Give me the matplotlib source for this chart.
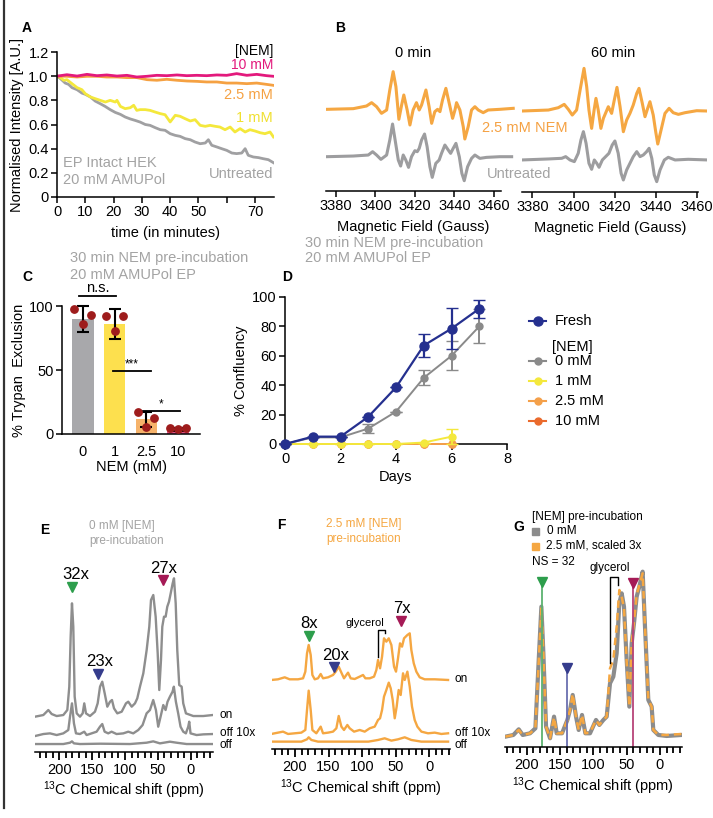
import matplotlib
matplotlib.use('Agg')
import matplotlib.pyplot as plt
from matplotlib.lines import Line2D
from matplotlib.patches import Rectangle

plt.rcParams['font.family'] = ['Liberation Sans', 'DejaVu Sans']
plt.rcParams['mathtext.default'] = 'regular'
plt.rcParams['axes.linewidth'] = 1.1
plt.rcParams['xtick.major.width'] = 1.1
plt.rcParams['ytick.major.width'] = 1.1

# ---------------- DATA ----------------
# Panel A: normalised EPR intensity vs time (min)
a_t_untreated = [0, 1.2, 2.9, 4.1, 5.3, 7.1, 8.8, 10, 11.8, 13.5, 15.3, 17, 18.8, 20.6, 22.4, 24.1, 25.9, 27.6,
                 29.4, 31.2, 32.9, 34.7, 36.5, 38.2, 40, 41.8, 43.5, 45.3, 47.1, 48.8, 50.6, 52.4, 53.5, 54.7,
                 56.5, 58.2, 60, 61.8, 63.5, 65.3, 66.5, 67.6, 69.4, 71.2, 72.9, 74.7, 76.5]
a_untreated = [1.0, 0.98, 0.943, 0.932, 0.905, 0.888, 0.86, 0.85, 0.828, 0.794, 0.772, 0.75, 0.723, 0.70, 0.684,
               0.662, 0.646, 0.634, 0.62, 0.60, 0.593, 0.574, 0.557, 0.552, 0.524, 0.51, 0.502, 0.483, 0.474,
               0.455, 0.441, 0.447, 0.474, 0.428, 0.414, 0.40, 0.386, 0.364, 0.359, 0.364, 0.40, 0.345, 0.331,
               0.326, 0.317, 0.309, 0.284]
a_t_1mM = [0, 1.2, 2.4, 3.5, 5.3, 7.1, 8.8, 10, 11.8, 13.5, 15.3, 17.1, 18.8, 20.6, 21.2, 22.4, 24.1, 25.9, 27.1,
           28.2, 29.4, 31.2, 32.9, 34.7, 36.5, 38.2, 40, 41.8, 43.5, 45.3, 47.1, 48.8, 50.6, 52.4, 54.1, 55.9,
           57.6, 59.4, 61.2, 62.9, 64.7, 66.5, 68.2, 70, 71.8, 73.5, 75.3, 76.5]
a_1mM = [1.0, 0.988, 0.966, 0.971, 0.938, 0.905, 0.888, 0.855, 0.828, 0.814, 0.80, 0.786, 0.80, 0.786, 0.80, 0.75,
         0.731, 0.739, 0.759, 0.717, 0.723, 0.723, 0.717, 0.703, 0.69, 0.681, 0.621, 0.676, 0.668, 0.648, 0.629,
         0.64, 0.593, 0.585, 0.593, 0.585, 0.579, 0.557, 0.579, 0.538, 0.566, 0.538, 0.557, 0.546, 0.532, 0.524,
         0.538, 0.497]
a_t_hi = [0, 3.5, 7.1, 10.6, 14.1, 17.6, 21.2, 24.7, 28.2, 31.8, 35.3, 38.8, 42.4, 45.9, 49.4, 52.9, 56.5, 60,
          63.5, 67.1, 70.6, 74.1, 76.5]
a_2p5mM = [1.0, 0.999, 0.993, 0.999, 0.999, 0.993, 0.993, 0.988, 0.988, 0.971, 0.966, 0.974, 0.966, 0.96, 0.957,
           0.952, 0.952, 0.943, 0.943, 0.938, 0.943, 0.932, 0.924]
a_10mM = [1.0, 1.012, 1.001, 1.015, 1.004, 1.01, 1.001, 1.007, 0.993, 0.999, 1.007, 1.004, 1.01, 1.004, 1.007,
          1.004, 1.01, 1.007, 1.021, 1.007, 1.015, 1.004, 0.999]
a_xticks = [0, 10, 20, 30, 40, 50, 60, 70]
a_xticklabels = ['0', '10', '20', '30', '40', '50', '', '70']
a_yticks = [0, 0.2, 0.4, 0.6, 0.8, 1.0, 1.2]
a_yticklabels = ['0', '0.2', '0.4', '0.6', '0.8', '1.0', '1.2']

# Panel B: EPR spectra (field in Gauss, signal in arbitrary units)
b0_field_nem = [3375.3, 3388.8, 3395.5, 3398.1, 3400.6, 3403.1, 3405.7, 3407.3, 3409.0, 3410.4, 3411.9, 3413.3,
                3414.4, 3416.1, 3417.5, 3419.1, 3420.8, 3422.2, 3423.4, 3425.6, 3427.2, 3428.5, 3430.1, 3431.5,
                3432.7, 3434.0, 3435.7, 3437.4, 3439.1, 3440.3, 3441.1, 3442.8, 3444.5, 3445.3, 3447.0, 3448.7,
                3450.4, 3452.1, 3454.6, 3457.1, 3463.0, 3469.8]
b0_nem = [-1, 1, 9, 19, 7, -13, -3, 57, 112, 67, -31, 12, 42, -3, -48, -3, 19, -3, 12, 57, 7, -43, -8, -1, -8, 27,
          62, 17, -28, -3, 19, -3, -53, -90, -53, -3, 7, -3, -11, -3, -1, 2]
b0_field_unt = [3375.3, 3388.8, 3396.4, 3398.6, 3400.6, 3402.8, 3405.7, 3407.3, 3408.7, 3410.0, 3411.6, 3412.8,
                3414.1, 3415.4, 3416.8, 3418.3, 3420.0, 3421.2, 3422.2, 3423.4, 3424.9, 3426.2, 3427.6, 3428.8,
                3430.6, 3432.3, 3433.5, 3435.2, 3436.9, 3438.1, 3439.4, 3440.8, 3442.5, 3443.8, 3445.0, 3446.7,
                3448.7, 3450.4, 3452.9, 3456.3, 3463.0, 3469.0]
b0_unt = [0, 2, 5, 15, 5, -8, 5, 50, 98, 50, -10, -28, 5, -10, -32, 0, 18, 15, 25, 50, 68, 30, -30, -62, -20, -10,
          10, 35, 20, 10, 25, 40, 0, -50, -72, -30, -5, 5, -5, -2, 0, 0]
b60_field_nem = [3374.8, 3387.8, 3392.6, 3395.5, 3397.5, 3399.4, 3401.5, 3403.2, 3405.1, 3406.4, 3407.5, 3408.8,
                 3410.0, 3410.9, 3412.0, 3413.3, 3414.5, 3416.9, 3418.5, 3419.8, 3421.1, 3422.6, 3424.2, 3425.8,
                 3427.4, 3429.0, 3430.7, 3431.8, 3433.4, 3434.7, 3436.0, 3437.1, 3438.7, 3439.9, 3440.9, 3442.5,
                 3444.4, 3446.4, 3448.4, 3450.9, 3454.1, 3459.8, 3465.4]
b60_nem = [-1, 2, 9, 19, 4, -13, 2, 62, 127, 72, 2, -53, 2, 37, 2, -53, -23, 12, -8, 32, 70, 12, -63, -28, -8, 17,
           52, 67, 22, -18, 7, 27, -13, -63, -100, -58, -8, 7, -6, -11, -6, 0, -1]
b60_field_unt = [3374.8, 3387.8, 3394.3, 3396.2, 3398.3, 3400.4, 3402.3, 3403.6, 3404.8, 3406.1, 3407.5, 3408.8,
                 3410.1, 3411.3, 3412.4, 3414.0, 3415.6, 3417.2, 3418.8, 3420.1, 3421.7, 3423.1, 3424.2, 3425.8,
                 3427.4, 3429.0, 3430.7, 3432.3, 3433.9, 3435.5, 3436.7, 3438.0, 3439.2, 3440.4, 3442.0, 3444.1,
                 3446.0, 3449.3, 3455.7, 3465.4]
b60_unt = [-2, 1, 3, 8, -2, -7, 18, 58, 83, 48, -12, -30, -2, -12, -24, -2, 8, 18, 43, 55, 18, -42, -62, -32, -12,
           8, 23, 8, 13, 23, 33, 3, -47, -67, -32, -2, 6, -2, 0, -2]
b_ticks = [3380, 3400, 3420, 3440, 3460]

# Panel C: trypan exclusion
c_labels = ['0', '1', '2.5', '10']
c_means = [90, 86, 11.5, 3.5]
c_err = [10, 11.5, 6, 1]
c_points = [[97.7, 93.2, 85.7], [92.4, 92.4, 80.7], [17.4, 12.8, 5.7], [4.4, 4.9, 3.9]]

# Panel D: confluency vs days
d_days = [0, 1, 2, 3, 4, 5, 6, 7]
d_fresh = [0, 5, 5, 18.5, 38.5, 67, 78.5, 92]
d_fresh_err = [0, 0, 0, 0, 0, 8, 14, 6]
d_0mM = [0, 4.5, 4.5, 10.5, 22, 45, 60, 80]
d_0mM_err = [0, 0, 0, 3, 0, 5, 10, 11.5]
d_days_nem = [0, 1, 2, 3, 4, 5, 6]
d_1mM = [0, 0, 0, 0, 0, 1, 5]
d_1mM_err = [0, 0, 0, 0, 0, 0, 5]
d_2p5mM = [0, 0, 0, 0, 0, 0, 0]
d_10mM = [0, 0, 0, 0, 0, 0, 0]

# Panel E: 13C spectra, 0 mM NEM (ppm, intensity above own baseline)
e_ppm_on = [237, 224.3, 216.7, 211.6, 204, 193.9, 187.8, 184.8, 182.7, 180.7, 178.7, 176.6, 173.5, 168.5, 164.4,
            162, 159.4, 153.3, 145.7, 141.6, 138, 134.6, 130.9, 126.9, 122.8, 119.8, 116.7, 111.7, 105, 98.5, 95,
            89.8, 84.8, 81.3, 77.2, 72.1, 67, 63, 60.4, 56.9, 53.3, 50.2, 47.8, 45.2, 43.2, 40.6, 38.1, 35.6, 33,
            30.4, 27.4, 25.4, 22.8, 20.4, 17.4, 13.7, 11.3, 7.2, -4, -19.2, -33.5]
e_on = [-2, 3, 18, 6, 0, 3, 18, 88, 238, 338, 268, 58, 8, -2, 8, 38, 8, 0, 13, 38, 88, 103, 68, 28, 43, 48, 23, 8,
        13, 38, 43, 28, 38, 53, 88, 128, 198, 268, 348, 363, 298, 188, 78, 168, 268, 298, 298, 328, 343, 368, 398,
        413, 338, 198, 93, 88, 38, 8, 0, 0, 3]
e_ppm_off10 = [237, 224.3, 214.2, 204, 193.9, 186.3, 183.7, 180.7, 177.7, 174.6, 168.5, 162, 158.4, 150.8, 143.2,
               138.1, 134.6, 131, 125.5, 120.4, 112.8, 102.6, 95, 87.4, 79.8, 73.2, 67.1, 62, 57, 52.9, 49.4, 45.8,
               41.7, 38.2, 35.2, 31.6, 27.6, 25.6, 22.5, 19, 15.4, 11.3, 7.3, 3.7, 2.2, 0.2, -9, -19.2, -33.5]
e_off10 = [-3, 3, 5, 0, 5, 15, 55, 95, 35, 5, 3, 10, 0, 5, 10, 25, 33, 10, 5, 10, 3, 5, 10, 5, 15, 30, 65, 75, 105,
           75, 25, 55, 90, 75, 100, 115, 130, 145, 100, 65, 25, 10, 5, 25, 40, 5, 0, 2, 3]
e_ppm_off = [237, 193.9, 183.7, 180.7, 177.7, 168.5, 138.1, 92.4, 67.1, 57, 46.8, 31.6, 21.5, 6.2, -33.5]
e_off = [1, 1, 5, 9, 3, 1, 2, 1, 5, 9, 3, 8, 5, 1, 1]

# Panel F: 13C spectra, 2.5 mM NEM
f_ppm_on = [235.3, 225.4, 215.4, 208, 195.5, 188, 184.6, 182.1, 179.6, 176.6, 174.1, 170.6, 165.7, 161.7, 158.2,
            150.7, 143.3, 139.3, 134.8, 130.8, 126.9, 123.4, 120.9, 116.9, 110.9, 103.5, 98.5, 95, 88.5, 82.1,
            78.6, 76.1, 73.1, 70.1, 67.2, 63.7, 60.1, 56.2, 52.2, 49.3, 46.3, 43.3, 40.3, 37.3, 32.3, 28.8, 26.4,
            22.8, 18.9, 13.9, 6.5, -8.5, -28.4]
f_on = [-2, 0, 6, 0, 0, 3, 23, 78, 103, 73, 13, 0, 3, 16, 3, 6, 13, 23, 38, 20, 3, 13, 20, 3, 1, 8, 13, 3, 3, 8,
        28, 58, 33, 68, 123, 113, 123, 103, 38, 23, 63, 108, 98, 123, 133, 138, 88, 48, 23, 6, 0, 0, -2]
f_ppm_off10 = [235.3, 225.4, 217.9, 210.4, 200.5, 190.5, 184.6, 182.1, 179.6, 176.6, 174.1, 168.2, 161.7, 158.2,
               150.7, 143.3, 138.3, 134.8, 130.8, 126.9, 121.9, 118.4, 111.9, 103.5, 96, 88.5, 81.1, 76.1, 73.1,
               70.1, 67.2, 63.7, 60.1, 57.2, 54.2, 51.2, 48.3, 45.3, 42.3, 38.8, 36.3, 32.3, 28.8, 25.4, 21.4,
               17.4, 11.4, 1.5, -8.5, -18.4, -28.4]
f_off10 = [-2, 2, 5, -2, 0, 2, 10, 70, 128, 70, 10, 0, 20, 0, 2, 5, 15, 52, 20, 10, 25, 15, 5, 10, 5, 15, 20, 40,
           45, 70, 110, 130, 152, 135, 100, 45, 80, 130, 115, 180, 160, 185, 140, 80, 40, 20, 5, 0, 2, -2, 0]
f_ppm_off = [235.3, 190.5, 182.1, 179.6, 175.6, 165.7, 90.5, 76.1, 66.2, 56.2, 46.3, 36.3, 26.4, 11.4, -28.4]
f_off = [0, 0, 7, 13, 5, 0, 0, 5, 10, 3, 7, 13, 5, 0, 0]

# Panel G: overlay, 0 mM vs 2.5 mM scaled 3x
g_ppm = [232, 220, 212, 206, 195, 187, 182, 178, 175, 171, 165, 159, 155, 147, 139, 135, 131, 126, 122, 117, 112,
         105, 96, 91, 85, 80, 75, 70, 65, 61, 57.5, 54, 50, 46, 42.5, 39, 35, 31, 26, 22.5, 17.5, 12.5, 10, 2.5,
         -10, -32.5]
g_0mM = [0, 5, 22, 5, 10, 25, 230, 390, 250, 30, -5, 60, 10, 10, 50, 80, 125, 60, 20, 65, 10, 10, 50, 35, 50, 60,
         160, 180, 250, 400, 430, 390, 230, 90, 280, 340, 420, 450, 495, 330, 110, 90, 20, 5, 2, 5]
g_2p5mM = [0, 5, 20, 5, 10, 25, 225, 385, 250, 30, -5, 58, 10, 10, 50, 80, 128, 60, 20, 65, 10, 12, 50, 35, 50, 60,
           205, 230, 330, 440, 420, 385, 225, 90, 280, 345, 425, 455, 490, 330, 110, 90, 20, 5, 5, 8]
nmr_major = [200, 150, 100, 50, 0]
nmr_minor = [230, 220, 210, 190, 180, 170, 160, 140, 130, 120, 110, 90, 80, 70, 60, 40, 30, 20, 10, -10, -20, -30]

# ---------------- FIGURE ----------------
W, H = 713, 818
fig = plt.figure(figsize=(W / 100, H / 100), dpi=100)


def ax_at(x0, y0, x1, y1):
    return fig.add_axes([x0 / W, 1 - y1 / H, (x1 - x0) / W, (y1 - y0) / H])


def ftext(x, y, s, **kw):
    kw.setdefault('va', 'center')
    fig.text(x / W, 1 - y / H, s, **kw)


GRAYTXT = '#a3a3a3'
ORANGE = '#f5a742'
PINK = '#e3197c'
YELLOW = '#f4e83c'
FS = 10.5

# left border
fig.add_artist(Line2D([4 / W, 4 / W], [1.0, 1 - 808 / H], transform=fig.transFigure, color='#333333', lw=1.6))

# ---- Panel A ----
axA = ax_at(57, 52, 274, 197)
axA.plot(a_t_untreated, a_untreated, color='#a0a0a2', lw=2)
axA.plot(a_t_1mM, a_1mM, color=YELLOW, lw=2)
axA.plot(a_t_hi, a_2p5mM, color='#f5a142', lw=2)
axA.plot(a_t_hi, a_10mM, color=PINK, lw=2)
axA.set_xlim(0, 76.7)
axA.set_ylim(0, 1.2)
axA.set_xticks(a_xticks)
axA.set_xticklabels(a_xticklabels, fontsize=FS)
axA.set_yticks(a_yticks)
axA.set_yticklabels(a_yticklabels, fontsize=FS)
for s in ['top', 'right']:
    axA.spines[s].set_visible(False)
axA.tick_params(length=4, pad=2)
axA.set_xlabel('time (in minutes)', fontsize=FS, labelpad=5)
axA.set_ylabel('Normalised Intensity [A.U.]', fontsize=FS, labelpad=3)
ftext(22, 28, 'A', fontsize=10, fontweight='bold')
ftext(273, 51, '[NEM]', fontsize=10, ha='right', color='black')
ftext(273, 65, '10 mM', fontsize=10, ha='right', color=PINK)
ftext(273, 95, '2.5 mM', fontsize=FS, ha='right', color='#f5a142')
ftext(273, 118, '1 mM', fontsize=FS, ha='right', color='#f0e030')
ftext(63, 163, 'EP Intact HEK', fontsize=FS, color=GRAYTXT)
ftext(63, 180, '20 mM AMUPol', fontsize=FS, color=GRAYTXT)
ftext(273, 174, 'Untreated', fontsize=FS, ha='right', color=GRAYTXT)

# ---- Panel B ----
ftext(335, 28, 'B', fontsize=10, fontweight='bold')
for (x0, x1, xl, sb, fn, yn, fu, yu, base_n, base_u, spine_y, title, tx) in [
        (326, 515, (3375, 3470.7), (3375, 3463.6), b0_field_nem, b0_nem, b0_field_unt, b0_unt, 109.0, 156.7,
         190.7, '0 min', 413),
        (522, 707, (3375, 3464.8), (3375, 3460.5), b60_field_nem, b60_nem, b60_field_unt, b60_unt, 110.7, 159.3,
         191.7, '60 min', 613)]:
    ax = ax_at(x0, 63, x1, spine_y)
    ax.plot(fn, yn, color=ORANGE, lw=2.2, solid_joinstyle='round')
    ax.plot(fu, [v - (base_u - base_n) * 3 for v in yu], color='#9d9d9f', lw=2.2, solid_joinstyle='round')
    ax.set_xlim(*xl)
    ax.set_ylim(-(spine_y - base_n) * 3, (base_n - 63) * 3)
    for s in ['top', 'right', 'left']:
        ax.spines[s].set_visible(False)
    ax.spines['bottom'].set_bounds(*sb)
    ax.set_yticks([])
    ax.set_xticks(b_ticks)
    ax.tick_params(axis='x', labelsize=FS, length=4, pad=2)
    ax.set_xlabel('Magnetic Field (Gauss)', fontsize=FS)
    ax.xaxis.set_label_coords((sum(sb) / 2 - xl[0]) / (xl[1] - xl[0]), -0.23)
    ftext(tx, 53, title, fontsize=FS, ha='center')
ftext(525, 128, '2.5 mM NEM', fontsize=FS, ha='center', color='#f5a142')
ftext(519, 174, 'Untreated', fontsize=FS, ha='center', color=GRAYTXT)

# ---- Panel C ----
ftext(22, 277, 'C', fontsize=10, fontweight='bold')
ftext(70, 258, '30 min NEM pre-incubation', fontsize=FS, color=GRAYTXT)
ftext(70, 275, '20 mM AMUPol EP', fontsize=FS, color=GRAYTXT)
axC = ax_at(62, 306, 200, 434)
xs = list(range(len(c_labels)))
axC.bar(xs, c_means, width=0.68, color=['#a8a8ab', '#fde04e', '#f6b36b', '#e9558c'], zorder=1)
axC.errorbar(xs, c_means, yerr=c_err, fmt='none', ecolor='black', elinewidth=1.5, capsize=4, capthick=1.5,
             zorder=3, clip_on=False)
for i, pts in enumerate(c_points):
    axC.scatter([i - 0.27, i + 0.25, i][:len(pts)], pts, s=28, color='#9e1c1c', zorder=4, clip_on=False)
axC.set_xlim(-0.66, 3.69)
axC.set_ylim(0, 100)
axC.set_yticks([0, 50, 100])
axC.set_xticks(xs)
axC.set_xticklabels(c_labels)
axC.tick_params(labelsize=FS, length=4, pad=2)
axC.tick_params(axis='x', length=0, pad=8)
for s in ['top', 'right']:
    axC.spines[s].set_visible(False)
axC.set_xlabel('NEM (mM)', fontsize=FS, labelpad=1)
axC.set_ylabel('% Trypan  Exclusion', fontsize=FS, labelpad=2)
for (xa, xb, yv, lab) in [(-0.13, 1.05, 108, 'n.s.'), (0.95, 2.15, 49, '***'), (1.9, 3.05, 18, '*')]:
    axC.plot([xa, xb], [yv, yv], color='black', lw=1.3, clip_on=False)
    axC.text((xa + xb) / 2, yv + 0.5, lab, ha='center', va='bottom', fontsize=8.5 if lab != 'n.s.' else FS,
             clip_on=False)

# ---- Panel D ----
ftext(282, 277, 'D', fontsize=10, fontweight='bold')
ftext(305, 243, '30 min NEM pre-incubation', fontsize=FS, color=GRAYTXT)
ftext(305, 258, '20 mM AMUPol EP', fontsize=FS, color=GRAYTXT)
axD = ax_at(285, 297, 507, 444)
FRESH = '#25308f'
G0 = '#8a8a8a'
C25 = '#f4a04a'
C10 = '#ea6a2c'
axD.errorbar(d_days_nem, d_10mM, color=C10, marker='o', ms=5, lw=1.4, clip_on=False, zorder=3)
axD.errorbar(d_days_nem, d_2p5mM, color=C25, marker='o', ms=5, lw=1.4, clip_on=False, zorder=3)
axD.errorbar(d_days_nem, d_1mM, yerr=d_1mM_err, color=YELLOW, marker='o', ms=5, lw=1.4, capsize=4,
             clip_on=False, zorder=4)
axD.errorbar(d_days, d_0mM, yerr=d_0mM_err, color=G0, marker='o', ms=5, lw=1.4, capsize=4, clip_on=False,
             zorder=5)
axD.errorbar(d_days, d_fresh, yerr=d_fresh_err, color=FRESH, marker='o', ms=6.5, lw=1.6, capsize=4,
             clip_on=False, zorder=6)
axD.set_xlim(0, 8)
axD.set_ylim(0, 100)
axD.set_xticks([0, 2, 4, 6, 8])
axD.set_yticks([0, 20, 40, 60, 80, 100])
axD.tick_params(labelsize=FS, length=4, pad=2)
for s in ['top', 'right']:
    axD.spines[s].set_visible(False)
axD.set_xlabel('Days', fontsize=FS, labelpad=3)
axD.set_ylabel('% Confluency', fontsize=FS, labelpad=3)
for (yy, col, ms, lab) in [(321, FRESH, 6.5, 'Fresh'), (361, G0, 5, '0 mM'), (381, YELLOW, 5, '1 mM'),
                           (401, C25, 5, '2.5 mM'), (421, C10, 5, '10 mM')]:
    fig.add_artist(Line2D([529 / W, 546 / W], [1 - yy / H] * 2, transform=fig.transFigure, color=col, lw=1.5))
    fig.add_artist(Line2D([538 / W], [1 - yy / H], transform=fig.transFigure, color=col, marker='o', ms=ms))
    ftext(555, yy, lab, fontsize=FS)
ftext(552, 347, '[NEM]', fontsize=FS)


# ---- NMR helper ----
def nmr_axis(ax, xl, ytop):
    ax.set_xlim(*xl)
    ax.set_ylim(0, ytop)
    for s in ['top', 'right', 'left']:
        ax.spines[s].set_visible(False)
    ax.set_yticks([])
    ax.set_xticks(nmr_major)
    ax.set_xticks(nmr_minor, minor=True)
    ax.tick_params(axis='x', which='major', length=5.5, width=1.3, labelsize=FS, pad=2.5)
    ax.tick_params(axis='x', which='minor', length=4, width=1.3)
    ax.set_xlabel('$^{13}$C Chemical shift (ppm)', fontsize=FS, labelpad=2)


def tri(ax, x, y, col):
    ax.plot([x], [y], marker='v', ms=6.5, color=col, clip_on=False, zorder=5)


GREEN = '#2d9e4c'
BLUE = '#353c8c'
MAG = '#a51a56'

# ---- Panel E ----
ftext(40, 530, 'E', fontsize=10, fontweight='bold')
ftext(89, 526, '0 mM [NEM]', fontsize=8.5, color=GRAYTXT)
ftext(89, 541, 'pre-incubation', fontsize=8.5, color=GRAYTXT)
axE = ax_at(35, 560, 213, 751.7)
EG = '#8e8e8e'
axE.plot(e_ppm_on, [v + 107 for v in e_on], color=EG, lw=1.7)
axE.plot(e_ppm_off10, [v + 50 for v in e_off10], color=EG, lw=1.7)
axE.plot(e_ppm_off, [v + 22 for v in e_off], color=EG, lw=1.7)
nmr_axis(axE, (237, -34), 575)
tri(axE, 180.7, 495, GREEN)
tri(axE, 141.6, 233, BLUE)
tri(axE, 41.7, 515, MAG)
axE.text(174.6, 533, '32x', fontsize=12, ha='center', va='center')
axE.text(139, 270, '23x', fontsize=12, ha='center', va='center')
axE.text(40.6, 550, '27x', fontsize=12, ha='center', va='center')
ftext(220, 715, 'on', fontsize=8.5)
ftext(220, 733, 'off 10x', fontsize=8.5)
ftext(220, 745, 'off', fontsize=8.5)

# ---- Panel F ----
ftext(277, 525, 'F', fontsize=10, fontweight='bold')
ftext(326, 524, '2.5 mM [NEM]', fontsize=8.5, color='#f5a742')
ftext(326, 539, 'pre-incubation', fontsize=8.5, color='#f5a742')
axF = ax_at(271.7, 560, 450, 749.3)
axF.plot(f_ppm_on, [v + 210 for v in f_on], color=ORANGE, lw=1.7)
axF.plot(f_ppm_off10, [v + 48 for v in f_off10], color=ORANGE, lw=1.7)
axF.plot(f_ppm_off, [v + 23 for v in f_off], color=ORANGE, lw=1.7)
nmr_axis(axF, (234.8, -31.3), 568)
tri(axF, 179.6, 340, GREEN)
tri(axF, 141.8, 248, BLUE)
tri(axF, 42.3, 386, MAG)
axF.text(179.6, 378, '8x', fontsize=12, ha='center', va='center')
axF.text(140, 280, '20x', fontsize=12, ha='center', va='center')
axF.text(40.8, 423, '7x', fontsize=12, ha='center', va='center')
axF.text(96, 378, 'glycerol', fontsize=8, ha='center', va='center')
axF.plot([76.1, 76.1, 66.2, 66.2], [278, 358, 358, 348], color='black', lw=1)
ftext(455, 679, 'on', fontsize=8.5)
ftext(455, 733, 'off 10x', fontsize=8.5)
ftext(455, 745, 'off', fontsize=8.5)

# ---- Panel G ----
ftext(513, 527, 'G', fontsize=10, fontweight='bold')
ftext(532, 517, '[NEM] pre-incubation', fontsize=8.5)
fig.add_artist(Rectangle((532 / W, 1 - 535 / H), 7 / W, 7 / H, transform=fig.transFigure, color='#8c8c8c'))
ftext(547, 531, '0 mM', fontsize=8.5)
fig.add_artist(Rectangle((532 / W, 1 - 550 / H), 7 / W, 7 / H, transform=fig.transFigure, color=ORANGE))
ftext(546, 546, '2.5 mM, scaled 3x', fontsize=8.5)
ftext(532, 562, 'NS = 32', fontsize=8.5)
axG = ax_at(505, 560, 681.7, 747.3)
axG.plot(g_ppm, [v + 32 for v in g_0mM], color='#8c8c8c', lw=3)
axG.plot(g_ppm, [v + 32 for v in g_2p5mM], color=ORANGE, lw=1.8, dashes=(3, 2))
nmr_axis(axG, (232.6, -32.6), 562)
axG.plot([177.5, 177.5], [0, 487], color='#5cb270', lw=1.3)
axG.plot([140, 140], [0, 230], color='#6a6fb0', lw=1.3)
axG.plot([41, 41], [0, 485], color='#b84478', lw=1.3)
tri(axG, 177.5, 495, GREEN)
tri(axG, 140, 237, BLUE)
tri(axG, 41, 492, MAG)
axG.text(75, 538, 'glycerol', fontsize=8.5, ha='center', va='center')
axG.plot([75, 75, 62.5, 62.5], [252, 512, 512, 487], color='black', lw=1)

fig.savefig('out.png', dpi=100)
